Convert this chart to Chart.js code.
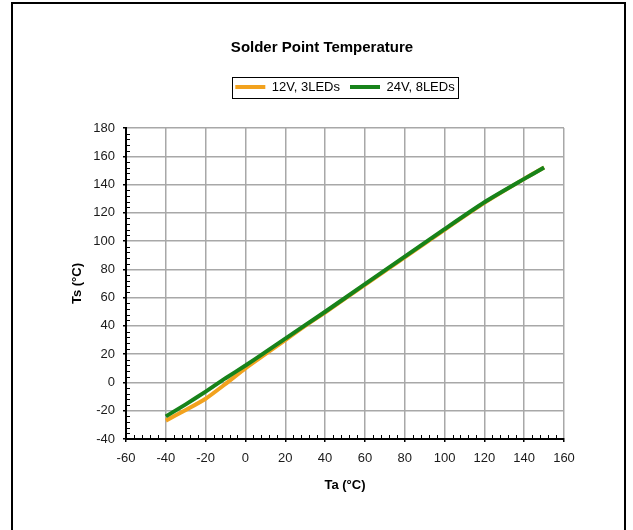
<!DOCTYPE html>
<html>
<head>
<meta charset="utf-8">
<script src="https://cdn.jsdelivr.net/npm/chart.js@4.4.1/dist/chart.umd.min.js"></script>
<style>
  html, body { margin: 0; padding: 0; background: #fff; }
  #wrap { position: relative; width: 633px; height: 530px; overflow: hidden; }
  #frame { position: absolute; left: 11px; top: 2px; width: 611px; height: 600px; border: 2px solid #000; }
  #wrap canvas { position: absolute; left: 0; top: 0; }
</style>
</head>
<body>
<div id="wrap">
  <div id="frame"></div>
  <canvas id="chart" width="633" height="530"></canvas>
</div>
<script>
// values
const taValues = [-40, -30, -20, -10, 0, 10, 20, 30, 40, 60, 80, 100, 120, 140, 150];
const ts12V = [-27, -19.5, -11.5, -1, 10, 20, 30, 40, 49.5, 69, 88.5, 108, 127, 144, 152];
const ts24V = [-24, -15.5, -6.5, 3, 12, 21.5, 31, 40.5, 50, 69.5, 89, 108.5, 127.5, 144, 152];
const seriesNames = ['12V, 3LEDs', '24V, 8LEDs'];

const xRange = [-60, 160];
const yRange = [-40, 180];
const majorStep = 20;
const minorStep = 4;

const orange = '#f2a21e';
const green = '#17831a';
const gridColor = '#a8a8a8';

Chart.defaults.font.family = "'Liberation Sans', Arial, sans-serif";
Chart.defaults.color = '#1a1a1a';

function toPoints(ys) {
    return taValues.map((x, i) => ({ x: x, y: ys[i] }));
}

function isMajor(v) {
    return Math.abs(Math.round(v) % majorStep) === 0;
}

// legend sits higher than the chart area, push the plot down
const legendMargin = {
    id: 'legendMargin',
    beforeInit(chart) {
        const fit = chart.legend.fit;
        chart.legend.fit = function () {
            fit.bind(chart.legend)();
            this.height += 24.5;
        };
    }
};

// black box around the legend items
const legendFrame = {
    id: 'legendFrame',
    afterDraw(chart) {
        const boxes = chart.legend.legendHitBoxes;
        if (!boxes || !boxes.length) return;
        const c = chart.ctx;
        const left = Math.min(...boxes.map(b => b.left)) - 3;
        const right = Math.max(...boxes.map(b => b.left + b.width)) + 4;
        const top = Math.min(...boxes.map(b => b.top)) - 4;
        const bottom = Math.max(...boxes.map(b => b.top + b.height)) + 4;
        c.save();
        c.strokeStyle = '#000';
        c.lineWidth = 1;
        c.strokeRect(Math.round(left) + 0.5, Math.round(top) + 0.5, Math.round(right - left), Math.round(bottom - top));
        c.restore();
    }
};

// small minor ticks on the inside of both axes
const minorTicks = {
    id: 'minorTicks',
    beforeDatasetsDraw(chart) {
        const c = chart.ctx;
        const area = chart.chartArea;
        const xs = chart.scales.x;
        const ys = chart.scales.y;
        c.save();
        c.strokeStyle = '#000';
        c.lineWidth = 1;
        c.beginPath();
        xs.ticks.forEach(t => {
            if (isMajor(t.value)) return;
            const px = Math.round(xs.getPixelForValue(t.value)) + 0.5;
            c.moveTo(px, area.bottom);
            c.lineTo(px, area.bottom - 4);
        });
        ys.ticks.forEach(t => {
            if (isMajor(t.value)) return;
            const py = Math.round(ys.getPixelForValue(t.value)) + 0.5;
            c.moveTo(area.left, py);
            c.lineTo(area.left + 4, py);
        });
        c.stroke();
        c.restore();
    }
};

const ctx = document.getElementById('chart').getContext('2d');

const chart = new Chart(ctx, {
    type: 'line',
    data: {
        datasets: [
            {
                label: seriesNames[0],
                data: toPoints(ts12V),
                borderColor: orange,
                backgroundColor: orange,
                borderWidth: 4,
                pointRadius: 0,
                tension: 0.2,
                order: 1
            },
            {
                label: seriesNames[1],
                data: toPoints(ts24V),
                borderColor: green,
                backgroundColor: green,
                borderWidth: 4,
                pointRadius: 0,
                tension: 0.2,
                order: 0
            }
        ]
    },
    options: {
        responsive: false,
        animation: false,
        events: [],
        layout: { padding: { left: 80, right: 69, top: 0, bottom: 31 } },
        plugins: {
            title: {
                display: true,
                text: 'Solder Point Temperature',
                color: '#000',
                font: { size: 15, weight: 'bold' },
                padding: { top: 39, bottom: 13.5 }
            },
            legend: {
                fullSize: false,
                labels: {
                    usePointStyle: true,
                    pointStyle: 'line',
                    pointStyleWidth: 30,
                    color: '#000',
                    font: { size: 13 },
                    padding: 10,
                    sort: (a, b) => a.datasetIndex - b.datasetIndex
                }
            },
            tooltip: { enabled: false }
        },
        scales: {
            x: {
                type: 'linear',
                min: xRange[0],
                max: xRange[1],
                border: { display: true, color: '#000', width: 2 },
                grid: {
                    color: c => isMajor(c.tick.value) ? gridColor : 'rgba(0,0,0,0)',
                    lineWidth: 1.5,
                    tickLength: 3,
                    tickColor: c => isMajor(c.tick.value) ? '#000' : 'rgba(0,0,0,0)'
                },
                ticks: {
                    stepSize: minorStep,
                    autoSkip: false,
                    maxRotation: 0,
                    font: { size: 13 },
                    padding: 9,
                    callback: v => isMajor(v) ? v : ''
                },
                title: {
                    display: true,
                    text: 'Ta (°C)',
                    color: '#000',
                    font: { size: 13, weight: 'bold' },
                    padding: { top: 0, bottom: 6 }
                },
                afterFit: s => { s.height = 60; }
            },
            y: {
                type: 'linear',
                min: yRange[0],
                max: yRange[1],
                border: { display: true, color: '#000', width: 2 },
                grid: {
                    color: c => isMajor(c.tick.value) ? gridColor : 'rgba(0,0,0,0)',
                    lineWidth: 1.5,
                    tickLength: 3,
                    tickColor: c => isMajor(c.tick.value) ? '#000' : 'rgba(0,0,0,0)'
                },
                ticks: {
                    stepSize: minorStep,
                    autoSkip: false,
                    font: { size: 13 },
                    padding: 8,
                    callback: v => isMajor(v) ? v : ''
                },
                title: {
                    display: true,
                    text: 'Ts (°C)',
                    color: '#000',
                    font: { size: 13, weight: 'bold' },
                    padding: { top: -10, bottom: 0 }
                },
                afterFit: s => { s.width = 46; }
            }
        }
    },
    plugins: [legendMargin, legendFrame, minorTicks]
});
</script>
</body>
</html>
